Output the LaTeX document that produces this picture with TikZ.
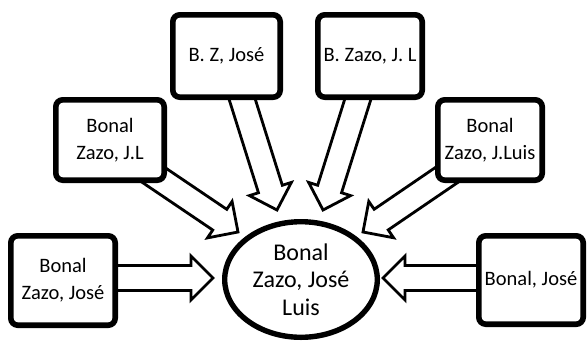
\documentclass[tikz,border=0pt]{standalone}
\usepackage{fontspec}
\setmainfont{Carlito}
\usetikzlibrary{calc,shapes.geometric,shadows}
\pgfdeclarelayer{background}
\pgfsetlayers{background,main}
\tikzset{
  namebox/.style={draw=black, fill=white, line width=5.6pt, rounded corners=7pt,
    align=center, inner sep=0pt, font=\fontsize{20.5}{27}\selectfont,
    drop shadow={opacity=0.22, shadow xshift=1.5pt, shadow yshift=-2.5pt}},
  nameell/.style={ellipse, draw=black, fill=white, line width=5.4pt,
    align=center, inner sep=0pt, font=\fontsize{24}{27.5}\selectfont,
    drop shadow={opacity=0.22, shadow xshift=1.5pt, shadow yshift=-2.5pt}},
  blockarrow/.style={draw=black, fill=white, line width=2.8pt, line join=miter}
}
\newcommand\blockarr[2]{%
  \draw[blockarrow] let \p1=(#1), \p2=(#2),
    \n1={atan2(\y2-\y1,\x2-\x1)}, \n2={veclen(\x2-\x1,\y2-\y1)} in
    [shift={(\p1)}, rotate=\n1]
    (0pt,-12.5pt) -- ({\n2-22pt},-12.5pt) -- ({\n2-22pt},-22pt) -- ({\n2*1pt},0pt)
    -- ({\n2-22pt},22pt) -- ({\n2-22pt},12.5pt) -- (0pt,12.5pt) -- cycle;}
\begin{document}
\begin{tikzpicture}[x=1pt,y=-1pt]
\useasboundingbox (0,0) rectangle (588,343);
% nodes
\node[namebox, minimum width=104.4pt, minimum height=89.4pt] (b1) at (63,280.5) {Bonal\\Zazo, José};
\node[namebox, minimum width=108.4pt, minimum height=80.4pt] (b2) at (110,140) {Bonal\\Zazo, J.L};
\node[namebox, minimum width=107.4pt, minimum height=82.4pt] (b3) at (226.5,56) {B. Z, José};
\node[namebox, minimum width=104.4pt, minimum height=82.4pt] (b4) at (370,56) {B. Zazo, J. L};
\node[namebox, minimum width=104.4pt, minimum height=80.4pt] (b5) at (490,140) {Bonal\\Zazo, J.Luis};
\node[namebox, minimum width=104.4pt, minimum height=88.4pt] (b6) at (531,280) {Bonal, José};
\node[nameell, minimum width=152.6pt, minimum height=115.6pt] (e) at (301,279.5) {Bonal\\Zazo, José\\Luis};
% arrow ends
\coordinate (s1) at (90,278);   \coordinate (t1) at (213,278);
\coordinate (s2) at (130,159);  \coordinate (t2) at (238,232);
\coordinate (s3) at (238,86);   \coordinate (t3) at (277,210);
\coordinate (s4) at (362,86);   \coordinate (t4) at (323,210);
\coordinate (s5) at (470,159);  \coordinate (t5) at (363,232);
\coordinate (s6) at (500,278);  \coordinate (t6) at (383,278);
\begin{pgfonlayer}{background}
\blockarr{s1}{t1}
\blockarr{s2}{t2}
\blockarr{s3}{t3}
\blockarr{s4}{t4}
\blockarr{s5}{t5}
\blockarr{s6}{t6}
\end{pgfonlayer}
\end{tikzpicture}
\end{document}
